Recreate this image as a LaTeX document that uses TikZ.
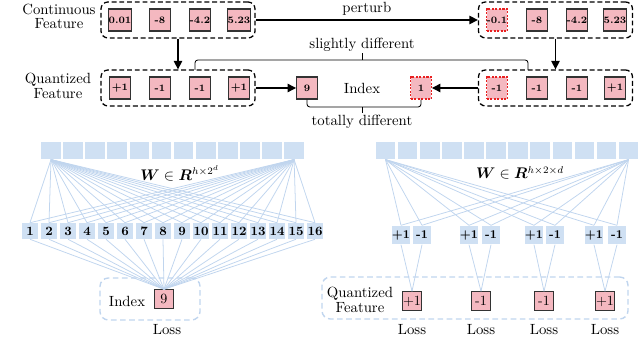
\documentclass[tikz,border=0pt]{standalone}
\usepackage{amsmath, amssymb, bm}
\usepackage{xcolor}
\usepackage{tikz}
\usetikzlibrary{positioning, arrows.meta, calc}
\definecolor{tpink}{RGB}{244,184,192}
\definecolor{tred}{RGB}{232,32,32}
\definecolor{tlblue}{RGB}{207,224,243}
\definecolor{tline}{RGB}{192,213,238}

\begin{document}
\begin{tikzpicture}[x=0.025cm, y=-0.025cm,
        every node/.style={font=\fontsize{10.5}{10.5}\selectfont, inner sep=0pt},
        grp/.style={draw, dash pattern=on 3.5pt off 2pt, line width=0.9pt, rounded corners=5pt, minimum width=3.85cm, minimum height=0.9cm},
        val/.style={draw=black!80, fill=tpink, line width=0.8pt, minimum width=0.52cm, minimum height=0.55cm, font=\fontsize{7}{8}\selectfont\bfseries},
        chg/.style={val, draw=tred, dash pattern=on 1.5pt off 1pt},
        wcell/.style={fill=tlblue, minimum width=0.49cm, minimum height=0.44cm},
        idx/.style={fill=tlblue, minimum size=0.4cm, font=\fontsize{9}{10}\selectfont\bfseries},
        sgn/.style={fill=tlblue, minimum size=0.47cm, font=\fontsize{8.5}{10}\selectfont\bfseries},
        outb/.style={draw=black!80, fill=tpink, line width=0.8pt, minimum width=0.48cm, minimum height=0.46cm, font=\fontsize{10}{10}\selectfont},
        soft/.style={draw=tline, dash pattern=on 4pt off 2.5pt, line width=1pt, rounded corners=6pt},
        fan/.style={draw=tline, line width=0.55pt},
        arr/.style={-{Triangle[length=6pt,width=6pt]}, line width=0.9pt}]
      \useasboundingbox (0,0) rectangle (640,359);

      \node[grp] (cf) at (178,20) {};
      \node[grp] (qf) at (178,88) {};
      \node[grp] (cp) at (555.5,20) {};
      \node[grp] (qp) at (555.5,88) {};
      \node[align=center] (lc) at (59,16.5) {Continuous\\Feature};
      \node[align=center] (lq) at (58,86) {Quantized\\Feature};

      \foreach \x/\v [count=\i] in {120/0.01,160/-8,200/-4.2,239/5.23}
        \node[val] (c\i) at (\x,20) {\v};
      \foreach \x/\v [count=\i] in {120/+1,160/-1,200/-1,239/+1}
        \node[val] (k\i) at (\x,88) {\v};
      \node[chg] (d1) at (497,20) {-0.1};
      \foreach \x/\v [count=\i from 2] in {537/-8,577/-4.2,615/5.23}
        \node[val] (d\i) at (\x,20) {\v};
      \node[chg] (m1) at (497,88) {-1};
      \foreach \x/\v [count=\i from 2] in {537/-1,577/-1,615/+1}
        \node[val] (m\i) at (\x,88) {\v};

      \node[val] (ia) at (307,88) {9};
      \node[chg] (ib) at (421,88) {1};
      \node (il) at (362,88) {Index};

      \draw[arr] (cf) -- node[above=3pt] {perturb} (cp);
      \draw[arr] (cf) -- (qf);
      \draw[arr] (cp) -- (qp);
      \draw[arr] (qf) -- (ia);
      \draw[arr] (qp) -- (ib);

      \coordinate (sl) at (195,70);
      \coordinate (sm) at (362,60);
      \coordinate (sr) at (528,70);
      \draw[semithick, rounded corners=2pt] (sl) |- (sm) -| (sr);
      \draw[semithick] (sm) -- ++(0,-7) node[above=1pt] {slightly different};
      \coordinate (tm) at (362,107);
      \draw[semithick, rounded corners=2pt] (ia) |- (tm) -| (ib);
      \draw[semithick] (tm) -- ++(0,6) node[below=1pt] {totally different};

      % index head
      \foreach \i in {1,...,12}
        \node[wcell] (w\i) at ({51+22.1*(\i-1)},150.5) {};
      \node (wl) at (180,173) {$\bm{W}\in\bm{R}^{h\times 2^d}$};
      \foreach \i in {1,...,16}
        \node[idx] (n\i) at ({30+19*(\i-1)},231) {\i};
      \node[outb] (sel) at (164,299) {9};
      \foreach \i in {1,...,16} {
        \draw[fan] (w1.south) -- (n\i.north);
        \draw[fan] (w12.south) -- (n\i.north);
        \draw[fan] (n\i.south) -- (sel.north);
      }
      \node[soft, minimum width=2.5cm, minimum height=1.05cm] (ibox) at (150,299) {};
      \node (il2) at (127,301) {Index};
      \node (ls) at (167,330) {Loss};

      % sign head
      \foreach \i in {1,...,12}
        \node[wcell] (v\i) at ({385.5+22.1*(\i-1)},150.5) {};
      \node (vl) at (520,173) {$\bm{W}\in\bm{R}^{h\times 2\times d}$};
      \foreach \x/\s [count=\i] in {401/+1,422/-1,469/+1,491/-1,534/+1,555/-1,594/+1,617/-1}
        \node[sgn] (p\i) at (\x,235) {\s};
      \foreach \x/\s [count=\i] in {412/+1,481/-1,544/-1,605/+1} {
        \node[outb] (o\i) at (\x,301) {\s};
        \node (lo\i) at (\x,330) {Loss};
      }
      \foreach \i in {1,...,8} {
        \draw[fan] (v1.south) -- (p\i.north);
        \draw[fan] (v12.south) -- (p\i.north);
      }
      \foreach \a/\b/\k in {1/2/1,3/4/2,5/6/3,7/8/4} {
        \draw[fan] (p\a.south) -- (o\k.north);
        \draw[fan] (p\b.south) -- (o\k.north);
      }
      \node[soft, minimum width=7.65cm, minimum height=1.05cm] (qbox) at (475,298) {};
      \node[align=center] (lq2) at (360,300) {Quantized\\Feature};
    \end{tikzpicture}
\end{document}
